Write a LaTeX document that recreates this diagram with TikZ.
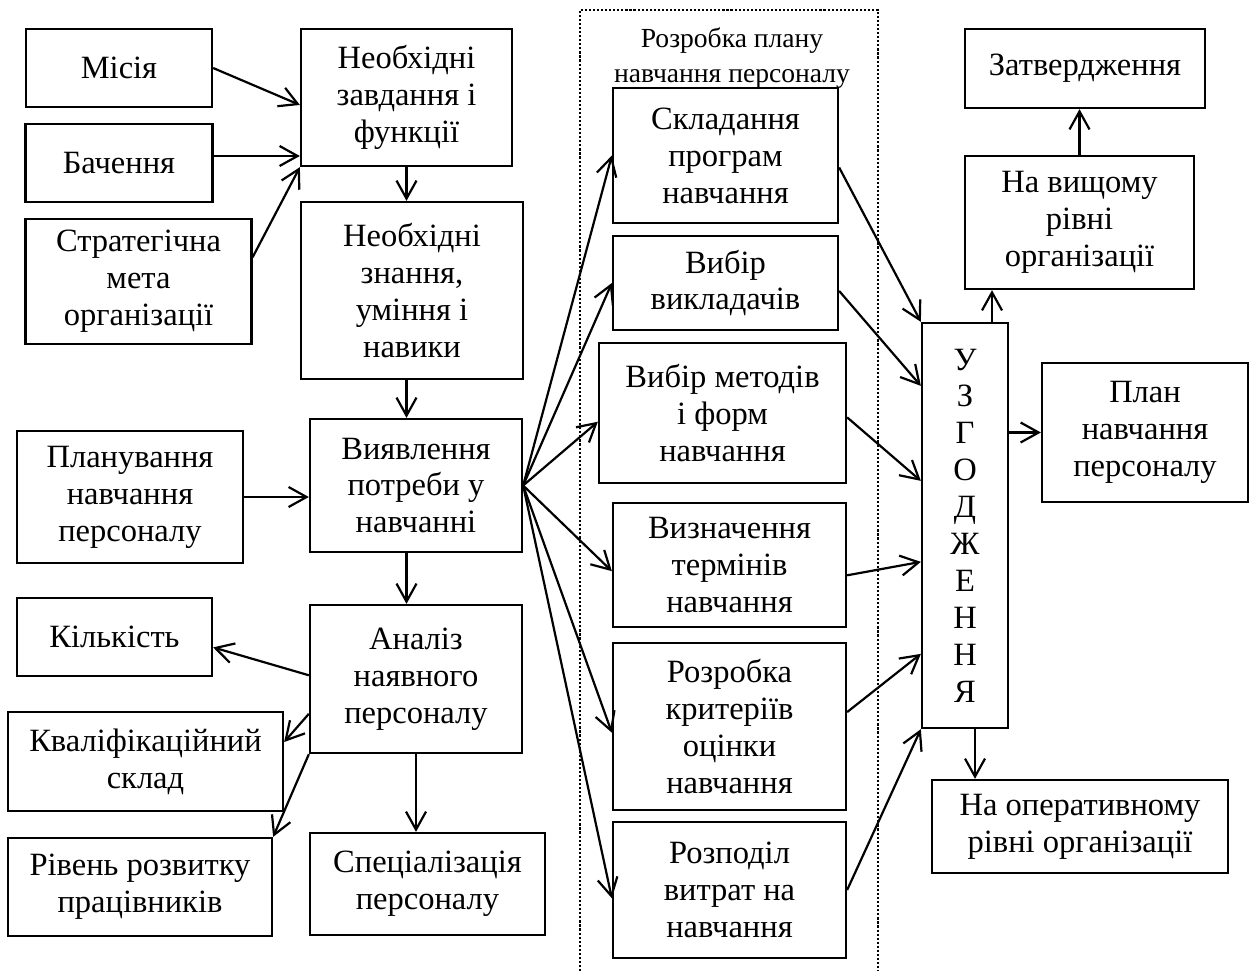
\documentclass[tikz,border=0pt]{standalone}
\usepackage{fontspec}
\setmainfont{Liberation Serif}
\usetikzlibrary{arrows.meta}
\tikzset{
block/.style={rectangle, text centered, align=center, draw=black, line width=1.3pt, inner sep=2pt},
arrow/.style={line width=1.25pt,->,>={Straight Barb[length=3.6mm,width=4mm]}},
heading/.style={align=center, font=\fontsize{15.7}{19.9}\selectfont}}

\begin{document}
\begin{tikzpicture}[font=\fontsize{18.5}{21}\selectfont]
\useasboundingbox (0,0) rectangle (25,-19.42);

% dotted frame of the plan stage
\draw [dash pattern=on 1.2pt off 1.1pt, line width=1.2pt] (11.6,-19.42) |- (17.56,-0.2) -- (17.56,-19.42);
\node (plantitle) [heading] at (14.64,-1.16) {Розробка плану\\навчання персоналу};

\node (mis) [block, minimum width=3.72cm, minimum height=1.56cm] at (2.38,-1.36) {Місія};
\node (bach) [block, below of=mis, node distance=1.9cm, minimum width=3.74cm, minimum height=1.56cm] {Бачення};
\node (strat) [block, below of=bach, node distance=2.37cm, xshift=0.39cm, minimum width=4.52cm, minimum height=2.5cm] {Стратегічна\\мета\\організації};
\node (plan) [block, minimum width=4.52cm, minimum height=2.64cm] at (2.6,-9.94) {Планування\\навчання\\персоналу};
\node (kilk) [block, minimum width=3.9cm, minimum height=1.56cm] at (2.29,-12.74) {Кількість};
\node (kval) [block, minimum width=5.5cm, minimum height=1.98cm] at (2.91,-15.23) {Кваліфікаційний\\склад};
\node (rivn) [block, below of=kval, node distance=2.51cm, xshift=-0.11cm, minimum width=5.28cm, minimum height=1.96cm] {Рівень розвитку\\працівників};

\node (zav) [block, minimum width=4.22cm, minimum height=2.74cm] at (8.13,-1.95) {Необхідні\\завдання і\\функції};
\node (znan) [block, below of=zav, node distance=3.86cm, xshift=0.11cm, minimum width=4.44cm, minimum height=3.54cm] {Необхідні\\знання,\\уміння і\\навики};
\node (vyyav) [block, below of=znan, node distance=3.9cm, xshift=0.08cm, minimum width=4.24cm, minimum height=2.66cm] {Виявлення\\потреби у\\навчанні};
\node (analiz) [block, below of=vyyav, node distance=3.87cm, minimum width=4.24cm, minimum height=2.96cm] {Аналіз\\наявного\\персоналу};
\node (spec) [block, below of=analiz, node distance=4.1cm, xshift=0.23cm, minimum width=4.7cm, minimum height=2.04cm] {Спеціалізація\\персоналу};

\node (skl) [block, minimum width=4.5cm, minimum height=2.7cm] at (14.51,-3.11) {Складання\\програм\\навчання};
\node (vykl) [block, below of=skl, node distance=2.55cm, minimum width=4.5cm, minimum height=1.88cm] {Вибір\\викладачів};
\node (metod) [block, below of=vykl, node distance=2.6cm, xshift=-0.06cm, minimum width=4.94cm, minimum height=2.8cm] {Вибір методів\\і форм\\навчання};
\node (term) [block, below of=metod, node distance=3.04cm, xshift=0.14cm, minimum width=4.66cm, minimum height=2.48cm] {Визначення\\термінів\\навчання};
\node (krit) [block, below of=term, node distance=3.23cm, minimum width=4.66cm, minimum height=3.34cm] {Розробка\\критеріїв\\оцінки\\навчання};
\node (rozp) [block, below of=krit, node distance=3.27cm, minimum width=4.66cm, minimum height=2.72cm] {Розподіл\\витрат на\\навчання};

\node (zatv) [block, minimum width=4.8cm, minimum height=1.58cm] at (21.7,-1.37) {Затвердження};
\node (vyshch) [block, below of=zatv, node distance=3.08cm, xshift=-0.11cm, minimum width=4.58cm, minimum height=2.66cm] {На вищому\\рівні\\організації};
\node (uzg) [block, minimum width=1.72cm, minimum height=8.1cm] at (19.3,-10.51) {У\\З\\Г\\О\\Д\\Ж\\Е\\Н\\Н\\Я};
\node (plann) [block, minimum width=4.12cm, minimum height=2.78cm] at (22.9,-8.65) {План\\навчання\\персоналу};
\node (oper) [block, minimum width=5.92cm, minimum height=1.86cm] at (21.6,-16.53) {На оперативному\\рівні організації};

% inputs
\draw [arrow] (mis.east) -- (zav.184);
\draw [arrow] ([yshift=0.14cm]bach.east) -- ([yshift=0.14cm]bach.east -| zav.west);
\draw [arrow] (strat.12) -- (zav.south west);
\draw [arrow] (zav.south) -- (zav.south |- znan.north);
\draw [arrow] (zav.south |- znan.south) -- (zav.south |- vyyav.north);
\draw [arrow] (plan) -- (plan -| vyyav.west);
\draw [arrow] (zav.south |- vyyav.south) -- (zav.south |- analiz.north);

% staff analysis
\draw [arrow] (analiz.178) -- (kilk.-6);
\draw [arrow] (analiz.198) -- (kval.8);
\draw [arrow] (analiz.south west) -- (rivn.north east);
\draw [arrow] (analiz) -- (analiz |- spec.north);

% plan stage
\draw [arrow] (vyyav.east) -- (skl.west);
\draw [arrow] (vyyav.east) -- (vykl.west);
\draw [arrow] (vyyav.east) -- (metod.184);
\draw [arrow] (vyyav.east) -- (term.183);
\draw [arrow] (vyyav.east) -- (krit.183);
\draw [arrow] (vyyav.east) -- (rozp.184);

\draw [arrow] (skl.-6) -- (uzg.north west);
\draw [arrow] (vykl.-4) -- ([yshift=-1.28cm]uzg.north west);
\draw [arrow] (metod.-2) -- ([yshift=-3.18cm]uzg.north west);
\draw [arrow] (term.-5) -- ([yshift=-4.8cm]uzg.north west);
\draw [arrow] (krit.7) -- ([yshift=-6.64cm]uzg.north west);
\draw [arrow] (rozp.east) -- (uzg.south west);

% approval
\draw [arrow] ([xshift=0.54cm]uzg.north) -- ([xshift=0.54cm]uzg.north |- vyshch.south);
\draw [arrow] (vyshch) -- (vyshch |- zatv.south);
\draw [arrow] (uzg.east |- plann) -- (plann);
\draw [arrow] ([xshift=0.2cm]uzg.south) -- ([xshift=0.2cm]uzg.south |- oper.north);
\end{tikzpicture}
\end{document}
